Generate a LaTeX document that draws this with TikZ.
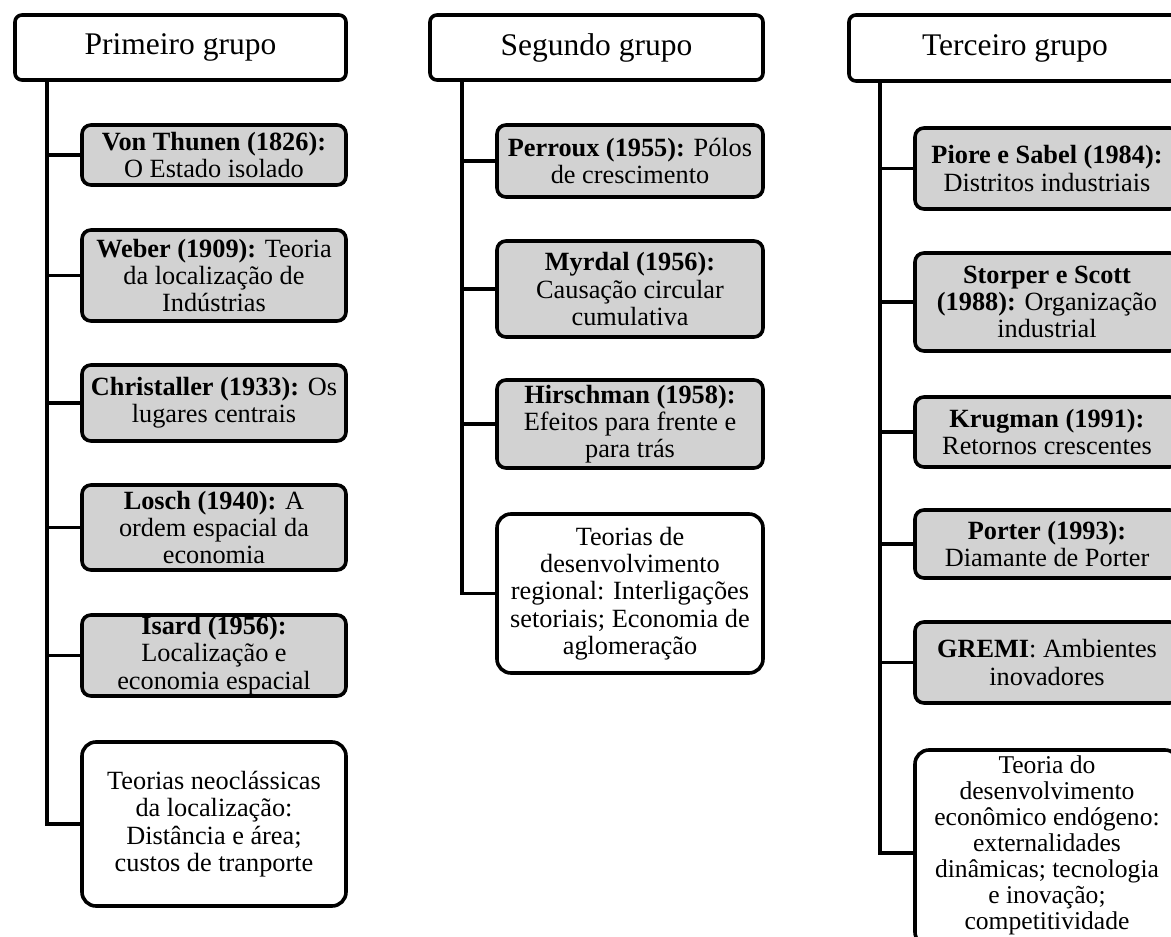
\documentclass[tikz,border=0pt]{standalone}
\usepackage{fontspec}
\setmainfont{Liberation Serif}
\definecolor{boxgray}{RGB}{210,210,210}
\begin{document}
\begin{tikzpicture}[x=1pt,y=-1pt,
  hdr/.style={draw, line width=3.6pt, rounded corners=7pt, fill=white, align=center, inner sep=0pt, font=\fontsize{31.5}{33}\selectfont},
  gbox/.style={draw, line width=3.6pt, rounded corners=9pt, fill=boxgray, align=center, inner sep=0pt, font=\fontsize{26.3}{27.3}\selectfont},
  wbox/.style={gbox, fill=white, rounded corners=14pt},
  tightxt/.style={align=center, inner sep=0pt, font=\fontsize{25.6}{26}\selectfont},
  conn/.style={line width=3.6pt, line cap=rect}]
\useasboundingbox (0,0) rectangle (1171,937);
\clip (0,0) rectangle (1171,937);

% trunk positions
\coordinate (t1) at (47,0);
\coordinate (t2) at (462,0);
\coordinate (t3) at (880,0);

% Column 1
\node[hdr, minimum width=331pt, minimum height=65pt] (h1) at (180.5,47.5) {Primeiro grupo};
\node[gbox, minimum width=264pt, minimum height=60pt] (a1) at (214,155) {\textbf{Von Thunen (1826):}\\O Estado isolado};
\node[gbox, minimum width=264pt, minimum height=91pt] (a2) at (214,275.5) {\textbf{Weber (1909):} Teoria\\da localização de\\Indústrias};
\node[gbox, minimum width=264pt, minimum height=76pt] (a3) at (214,403) {\textbf{Christaller (1933):} Os\\lugares centrais};
\node[gbox, minimum width=264pt, minimum height=85pt] (a4) at (214,527.5) {\textbf{Losch (1940):} A\\ordem espacial da\\economia};
\node[gbox, minimum width=264pt, minimum height=81pt] (a5) at (214,655.5) {\textbf{Isard (1956):}\\Localização e\\economia espacial};
\node[wbox, minimum width=264pt, minimum height=164pt] (a6) at (214,824) {Teorias neoclássicas\\da localização:\\Distância e área;\\custos de tranporte};

% Column 2
\node[hdr, minimum width=333pt, minimum height=65pt] (h2) at (596.5,47.5) {Segundo grupo};
\node[gbox, minimum width=266pt, minimum height=72pt] (b1) at (630,161) {\textbf{Perroux (1955):} Pólos\\de crescimento};
\node[gbox, minimum width=266pt, minimum height=96pt] (b2) at (630,289) {\textbf{Myrdal (1956):}\\Causação circular\\cumulativa};
\node[gbox, minimum width=266pt, minimum height=88pt] (b3) at (630,424) {\textbf{Hirschman (1958):}\\Efeitos para frente e\\para trás};
\node[wbox, minimum width=266pt, minimum height=159pt] (b4) at (630,593.5) {Teorias de\\desenvolvimento\\regional: Interligações\\setoriais; Economia de\\aglomeração};

% Column 3
\node[hdr, minimum width=332pt, minimum height=66pt] (h3) at (1015,48) {Terceiro grupo};
\node[gbox, minimum width=264pt, minimum height=81pt] (c1) at (1047,168.5) {\textbf{Piore e Sabel (1984):}\\Distritos industriais};
\node[gbox, minimum width=264pt, minimum height=98pt] (c2) at (1047,302) {\textbf{Storper e Scott}\\\textbf{(1988):} Organização\\industrial};
\node[gbox, minimum width=264pt, minimum height=70pt] (c3) at (1047,432) {\textbf{Krugman (1991):}\\Retornos crescentes};
\node[gbox, minimum width=264pt, minimum height=68pt] (c4) at (1047,544) {\textbf{Porter (1993):}\\Diamante de Porter};
\node[gbox, minimum width=264pt, minimum height=81pt] (c5) at (1047,662.5) {\textbf{GREMI}: Ambientes\\inovadores};
\node[wbox, minimum width=264pt, minimum height=196pt] (c6) at (1047,848) {};
\node[tightxt, anchor=north] (c6t) at ([yshift=-7pt]c6.north) {Teoria do\\desenvolvimento\\econômico endógeno:\\externalidades\\dinâmicas; tecnologia\\e inovação;\\competitividade};

% Connectors
\draw[conn] (h1.south -| t1) -- (a6.west -| t1) -- (a6.west);
\foreach \n in {a1,a2,a3,a4,a5} \draw[conn] (\n.west -| t1) -- (\n.west);
\draw[conn] (h2.south -| t2) -- (b4.west -| t2) -- (b4.west);
\foreach \n in {b1,b2,b3} \draw[conn] (\n.west -| t2) -- (\n.west);
\draw[conn] (h3.south -| t3) -- ([yshift=-5pt]c6.west -| t3) -- ([yshift=-5pt]c6.west);
\foreach \n in {c1,c2,c3,c4,c5} \draw[conn] (\n.west -| t3) -- (\n.west);
\end{tikzpicture}
\end{document}
